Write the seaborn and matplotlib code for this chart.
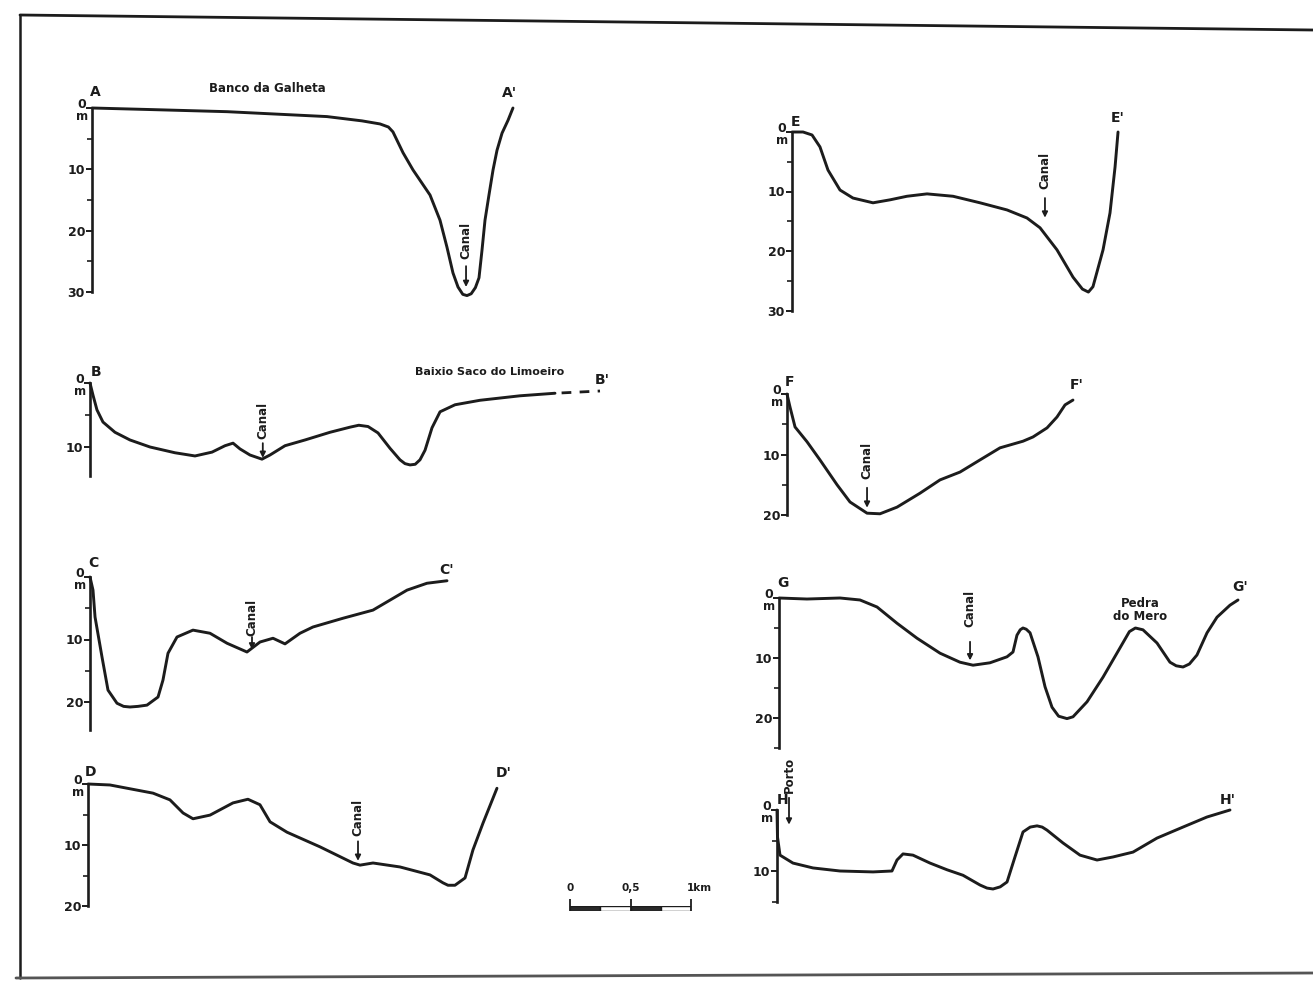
import matplotlib
matplotlib.use("Agg")
import matplotlib.pyplot as plt
from matplotlib.lines import Line2D
import pandas as pd
import seaborn as sns

# ---------------- data: distance along profile (km), depth (m) ----------------
a_km = [0, 0.48, 1.125, 1.958, 2.25, 2.4, 2.47, 2.508, 2.592, 2.675, 2.817, 2.9, 2.958, 3.008,
        3.05, 3.09, 3.125, 3.16, 3.195, 3.225, 3.25, 3.275, 3.308, 3.342, 3.375, 3.417,
        3.467, 3.508]
a_m = [0, 0.25, 0.6, 1.4, 2.1, 2.6, 3.1, 3.9, 7.3, 10.1, 14.2, 18.3, 22.7, 26.9,
       29.2, 30.4, 30.6, 30.3, 29.3, 27.7, 23.2, 18.3, 14.2, 10.1, 6.9, 4.1,
       2.0, 0]

b_km = [0, 0.025, 0.058, 0.108, 0.208, 0.333, 0.5, 0.708, 0.875, 1.017, 1.125, 1.192, 1.25,
        1.333, 1.433, 1.5, 1.625, 1.792, 2.0, 2.167, 2.24, 2.317, 2.4, 2.5, 2.583, 2.625,
        2.667, 2.71, 2.75, 2.792, 2.85, 2.917, 3.042, 3.25, 3.583, 3.875]
b_m = [0, 1.9, 4.2, 6.1, 7.7, 8.9, 10.0, 10.9, 11.4, 10.8, 9.8, 9.4, 10.3,
       11.25, 11.9, 11.25, 9.8, 8.9, 7.7, 6.9, 6.6, 6.8, 7.8, 10.2, 12.0, 12.6,
       12.8, 12.7, 12.0, 10.5, 7.0, 4.5, 3.4, 2.7, 2.0, 1.6]
b_dash_km = [3.93, 4.25]
b_dash_m = [1.55, 1.25]

c_km = [0, 0.025, 0.042, 0.1, 0.15, 0.225, 0.28, 0.333, 0.4, 0.475, 0.567, 0.608, 0.65, 0.725,
        0.858, 1.0, 1.142, 1.308, 1.417, 1.525, 1.625, 1.75, 1.858, 2.108, 2.358, 2.5, 2.642,
        2.808, 2.975]
c_m = [0, 2.1, 6.4, 12.8, 18.1, 20.2, 20.7, 20.8, 20.7, 20.5, 19.2, 16.5, 12.2, 9.6,
       8.5, 9.0, 10.6, 12.0, 10.4, 9.8, 10.7, 9.0, 8.0, 6.6, 5.3, 3.7, 2.1,
       1.0, 0.6]

d_km = [0, 0.183, 0.542, 0.683, 0.792, 0.875, 1.017, 1.208, 1.333, 1.433, 1.517, 1.658, 1.933,
        2.208, 2.267, 2.375, 2.6, 2.85, 2.958, 3.0, 3.058, 3.142, 3.208, 3.292, 3.408]
d_m = [0, 0.16, 1.5, 2.6, 4.75, 5.7, 5.1, 3.1, 2.5, 3.4, 6.2, 7.9, 10.3,
       12.95, 13.3, 12.95, 13.6, 14.9, 16.2, 16.6, 16.6, 15.4, 10.8, 6.4, 0.7]

e_km = [0, 0.092, 0.167, 0.233, 0.3, 0.4, 0.508, 0.675, 0.817, 0.958, 1.125, 1.342, 1.567,
        1.792, 1.958, 2.067, 2.208, 2.342, 2.42, 2.47, 2.508, 2.592, 2.65, 2.692, 2.717]
e_m = [0, 0, 0.5, 2.5, 6.4, 9.75, 11.1, 11.9, 11.4, 10.8, 10.4, 10.8, 11.9,
       13.1, 14.45, 16.1, 19.8, 24.4, 26.4, 26.9, 26.0, 19.8, 13.6, 5.9, 0]

f_km = [0, 0.025, 0.067, 0.167, 0.275, 0.417, 0.525, 0.667, 0.775, 0.917, 1.108, 1.275, 1.442,
        1.608, 1.775, 1.967, 2.05, 2.167, 2.25, 2.317, 2.383]
f_m = [0, 2.15, 5.45, 7.9, 10.9, 15.0, 17.85, 19.7, 19.8, 18.7, 16.4, 14.2, 12.9,
       10.9, 8.9, 7.8, 7.1, 5.6, 3.8, 1.8, 1.0]

g_km = [0, 0.233, 0.508, 0.675, 0.817, 0.983, 1.15, 1.342, 1.508, 1.617, 1.758, 1.9, 1.95,
        1.983, 2.01, 2.033, 2.06, 2.092, 2.158, 2.217, 2.275, 2.33, 2.4, 2.45, 2.567, 2.7,
        2.842, 2.92, 2.97, 3.033, 3.15, 3.258, 3.31, 3.367, 3.42, 3.483, 3.567, 3.65, 3.758,
        3.825]
g_m = [0, 0.17, 0, 0.33, 1.5, 4.2, 6.7, 9.2, 10.7, 11.2, 10.8, 9.8, 9.0,
       6.2, 5.3, 5.0, 5.2, 5.8, 9.8, 14.8, 18.2, 19.7, 20.1, 19.8, 17.3, 13.2,
       8.3, 5.6, 5.0, 5.3, 7.5, 10.7, 11.3, 11.5, 11.0, 9.5, 5.8, 3.2, 1.2,
       0.33]

h_km = [0, 0.004, 0.025, 0.133, 0.3, 0.525, 0.8, 0.958, 1.0, 1.05, 1.133, 1.275, 1.417,
        1.55, 1.692, 1.75, 1.8, 1.86, 1.917, 1.983, 2.05, 2.11, 2.167, 2.21, 2.25, 2.383,
        2.525, 2.667, 2.8, 2.967, 3.167, 3.383, 3.583, 3.775]
h_m = [0, 4.4, 7.4, 8.7, 9.5, 10.0, 10.15, 10.0, 8.2, 7.2, 7.4, 8.7, 9.8,
       10.7, 12.3, 12.8, 12.95, 12.6, 11.8, 7.7, 3.6, 2.8, 2.6, 2.8, 3.3, 5.4,
       7.4, 8.2, 7.7, 6.9, 4.6, 2.8, 1.15, 0]

scale_left = [0, 0.25, 0.5, 0.75]
scale_fill = ["#2a2a2a", "white", "#2a2a2a", "white"]
scale_labels = ["0", "0,5", "1km"]
scale_ticks = [0, 0.5, 1.0]

# ---------------- layout ----------------
W, H = 1313, 986
PX_PER_KM = 120.0
INK = "#1c1c1c"
WT = "bold"

sns.set_theme(style="white")
plt.rcParams["font.family"] = ["DejaVu Sans"]
plt.rcParams["axes.unicode_minus"] = False

fig = plt.figure(figsize=(W / 100, H / 100), dpi=100)
fig.patch.set_facecolor("white")


def panel(x0, y0, ppm, xmax, dmax, km, m, major, minor):
    h = dmax * ppm
    w = xmax * PX_PER_KM
    ax = fig.add_axes([x0 / W, 1 - (y0 + h) / H, w / W, h / H])
    ax.set_facecolor("none")
    df = pd.DataFrame({"km": km, "m": m})
    sns.lineplot(data=df, x="km", y="m", ax=ax, sort=False, estimator=None,
                 color=INK, linewidth=2.1)
    for ln in ax.lines:
        ln.set_clip_on(False)
        ln.set_solid_joinstyle("round")
        ln.set_solid_capstyle("round")
    ax.set_xlim(0, xmax)
    ax.set_ylim(dmax, 0)
    ax.set_xlabel("")
    ax.set_ylabel("")
    for s in ["top", "right", "bottom"]:
        ax.spines[s].set_visible(False)
    ax.spines["left"].set_color(INK)
    ax.spines["left"].set_linewidth(1.9)
    ax.set_xticks([])
    ax.set_yticks(major)
    ax.set_yticklabels(["" if v == 0 else str(v) for v in major], fontweight=WT)
    ax.set_yticks(minor, minor=True)
    ax.tick_params(axis="y", which="major", direction="out", length=4.5, width=1.4,
                   color=INK, labelcolor=INK, labelsize=9, pad=0.5, left=True)
    ax.tick_params(axis="y", which="minor", direction="out", length=3.5, width=1.2,
                   color=INK, left=True)
    ax.grid(False)
    yt = ax.get_yaxis_transform()
    ax.annotate("0", xy=(0, 0), xycoords=yt, xytext=(-7.5, 2.6), textcoords="offset points",
                ha="center", va="center", fontsize=9, fontweight=WT, color=INK,
                annotation_clip=False)
    ax.annotate("m", xy=(0, 0), xycoords=yt, xytext=(-7.5, -6.3), textcoords="offset points",
                ha="center", va="center", fontsize=8.5, fontweight=WT, color=INK,
                annotation_clip=False)
    return ax


def label(ax, x, y, s, size=10, **kw):
    ax.text(x, y, s, ha="center", va="center", fontsize=size, color=INK, clip_on=False,
            fontweight=WT, **kw)


def marker(ax, x, text_m, tail, tip, s="Canal"):
    ax.annotate("", xy=(x, tip), xytext=(x, tail),
                arrowprops=dict(arrowstyle="-|>", color=INK, lw=1.3, mutation_scale=8,
                                shrinkA=0, shrinkB=0), annotation_clip=False)
    ax.text(x, text_m, s, rotation=90, ha="center", va="center", fontsize=8.5,
            fontweight=WT, color=INK, clip_on=False)


# A
ax = panel(92, 108, 6.13, 3.6, 30, a_km, a_m, [0, 10, 20, 30], [5, 15, 25])
label(ax, 0.03, -2.6, "A")
label(ax, 3.48, -2.4, "A'")
label(ax, 1.46, -3.1, "Banco da Galheta", size=8.5)
marker(ax, 3.117, 21.6, 25.8, 29.2)

# B
ax = panel(90, 383, 6.4, 4.3, 14.5, b_km, b_m, [0, 10], [5])
ax.plot(b_dash_km, b_dash_m, color=INK, lw=2.0, ls=(0, (3.5, 3)), clip_on=False)
label(ax, 0.05, -1.7, "B")
label(ax, 4.27, -0.5, "B'")
label(ax, 3.33, -1.7, "Baixio Saco do Limoeiro", size=8)
marker(ax, 1.44, 5.8, 9.4, 11.7)

# C
ax = panel(90, 577, 6.25, 3.0, 24.5, c_km, c_m, [0, 10, 20], [5, 15])
label(ax, 0.03, -2.2, "C")
label(ax, 2.975, -1.1, "C'")
marker(ax, 1.35, 6.4, 9.6, 11.6)

# D
ax = panel(88, 784, 6.1, 3.5, 20, d_km, d_m, [0, 10, 20], [5, 15])
label(ax, 0.02, -2.0, "D")
label(ax, 3.46, -1.8, "D'")
marker(ax, 2.25, 5.4, 9.4, 12.6)

# E
ax = panel(792, 132, 5.95, 2.8, 30, e_km, e_m, [0, 10, 20, 30], [5, 15, 25])
label(ax, 0.03, -1.7, "E")
label(ax, 2.717, -2.35, "E'")
marker(ax, 2.108, 6.4, 11.1, 14.4)

# F
ax = panel(787, 394, 6.05, 2.5, 20, f_km, f_m, [0, 10, 20], [5, 15])
label(ax, 0.02, -2.0, "F")
label(ax, 2.417, -1.5, "F'")
marker(ax, 0.667, 10.9, 15.5, 18.8)

# G
ax = panel(779, 598, 6.0, 3.9, 25, g_km, g_m, [0, 10, 20], [5, 15, 25])
label(ax, 0.03, -2.5, "G")
label(ax, 3.842, -1.8, "G'")
label(ax, 3.008, 2.0, "Pedra\ndo Mero", size=8.5, linespacing=1.05)
marker(ax, 1.592, 1.7, 7.3, 10.4)

# H
ax = panel(777, 810, 6.1, 3.8, 15, h_km, h_m, [0, 10], [5, 15])
label(ax, 0.045, -1.6, "H")
label(ax, 3.76, -1.6, "H'")
marker(ax, 0.1, -5.8, -2.0, 2.4, s="Porto")

# scale bar
axs = fig.add_axes([570 / W, 1 - 911 / H, 121 / W, 5 / H])
axs.set_xlim(0, 1)
axs.set_ylim(0, 1)
axs.bar(scale_left, [1] * 4, width=0.25, align="edge", color=scale_fill,
        edgecolor=INK, linewidth=1.0)
axs.vlines(scale_ticks, 0, 2.4, color=INK, lw=1.3, clip_on=False)
for t, s in zip(scale_ticks, scale_labels):
    axs.text(t + (0.07 if s == "1km" else 0), 4.6, s, ha="center", va="center",
             fontsize=7.5, fontweight=WT, color=INK, clip_on=False)
axs.axis("off")

# frame of the scanned plate
fig.add_artist(Line2D([20 / W, 1.0], [1 - 15 / H, 1 - 30 / H], color=INK, lw=2.0,
                      transform=fig.transFigure))
fig.add_artist(Line2D([20 / W, 20 / W], [1 - 15 / H, 1 - 978 / H], color=INK, lw=1.8,
                      transform=fig.transFigure))
fig.add_artist(Line2D([16 / W, 1.0], [1 - 978 / H, 1 - 973 / H], color="#555555", lw=2.0,
                      transform=fig.transFigure))

fig.savefig("out.png", dpi=100, facecolor="white")
